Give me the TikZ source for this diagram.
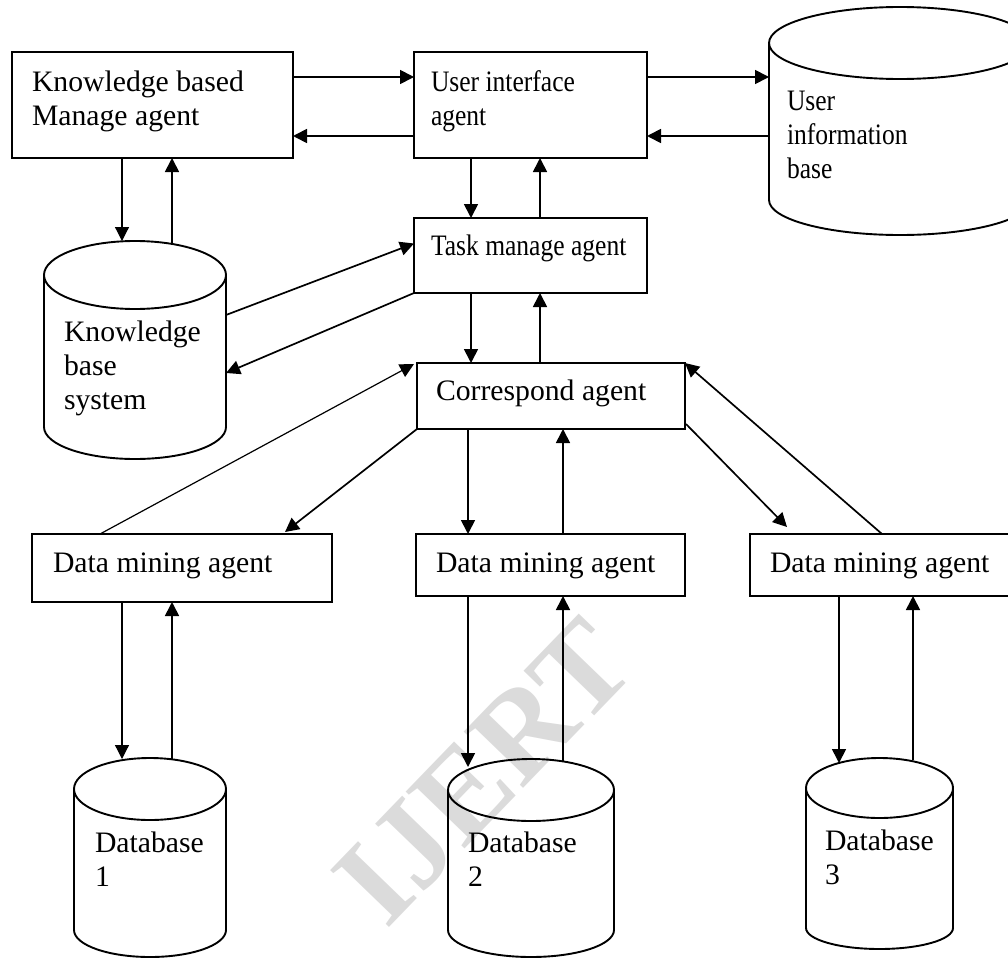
\documentclass[tikz,border=0pt]{standalone}
\usepackage{fontspec}
\usepackage{graphicx}
\setmainfont{Liberation Serif}
\usetikzlibrary{arrows.meta,calc}
\newcommand\agentbox[5]{%
  \node[box, minimum width={#4-#2}, minimum height={#5-#3}] (#1) at (#2,#3) {};}
% name, cx, top, rx, ry, side bottom, bottom
\newcommand\drawcyl[7]{%
  \node[inner sep=0pt, outer sep=0pt, minimum width={2*#4}, minimum height={#7-#3}, anchor=north] (#1) at (#2,#3) {};
  \draw[cylline] (#2,#3+#5) ellipse [x radius=#4, y radius=#5];
  \draw[cylline] (#2-#4,#3+#5) -- (#2-#4,#6)
     arc[start angle=180, end angle=0, x radius=#4, y radius=#7-#6] -- (#2+#4,#3+#5);}
\begin{document}
\begin{tikzpicture}[x=1pt,y=-1pt,
  box/.style={draw, line width=1.9pt, inner sep=0pt, outer sep=0pt, anchor=north west},
  cylline/.style={line width=1.9pt},
  txt/.style={inner sep=0pt, outer sep=0pt, anchor=base west, font=\fontsize{29.7}{34}\selectfont},
  arr/.style={line width=1.7pt, -{Triangle[length=14pt,width=14pt]}},
  thinarr/.style={arr, line width=1.2pt},
  wmark/.style={text=gray!28, font=\bfseries\fontsize{125}{125}\selectfont, rotate=46, inner sep=0pt}]
\useasboundingbox (0,0) rectangle (1008,958);
\clip (0,0) rectangle (1008,958);

% watermark
\node[wmark] (wm) at (484,772) {IJERT};

% boxes
\agentbox{kbm}{12}{52}{293}{158}
\agentbox{ui}{414}{52}{647}{158}
\agentbox{task}{414}{218}{647}{293}
\agentbox{corr}{417}{363}{685}{429}
\agentbox{dm1}{32}{534}{332}{602}
\agentbox{dm2}{416}{534}{685}{596}
\agentbox{dm3}{750}{534}{1015}{596}

% cylinders
\drawcyl{uib}{900}{7}{131}{36}{200}{235}
\drawcyl{kbs}{135}{241}{91}{34}{427}{459}
\drawcyl{db1}{150}{758}{76}{31}{930}{957}
\drawcyl{db2}{531}{759}{83}{31}{930}{957}
\drawcyl{db3}{879.5}{758}{73.5}{30}{928}{949}

% texts
\node[txt] (kbm-t) at (32,91) {\begin{tabular}[t]{@{}l@{}}Knowledge based\\Manage agent\end{tabular}};
\node[txt] (ui-t) at (431,91) {\scalebox{0.86}[1]{\begin{tabular}[t]{@{}l@{}}User interface\\agent\end{tabular}}};
\node[txt] (task-t) at (431,255) {\scalebox{0.86}[1]{Task manage agent}};
\node[txt] (uib-t) at (787,110) {\scalebox{0.86}[1]{\begin{tabular}[t]{@{}l@{}}User\\information\\base\end{tabular}}};
\node[txt] (kbs-t) at (64,341) {\begin{tabular}[t]{@{}l@{}}Knowledge\\base\\system\end{tabular}};
\node[txt] (corr-t) at (436,400) {Correspond agent};
\node[txt] (dm1-t) at (53,572) {Data mining agent};
\node[txt] (dm2-t) at (436,572) {Data mining agent};
\node[txt] (dm3-t) at (770,572) {Data mining agent};
\node[txt] (db1-t) at (95,852) {\begin{tabular}[t]{@{}l@{}}Database\\1\end{tabular}};
\node[txt] (db2-t) at (468,852) {\begin{tabular}[t]{@{}l@{}}Database\\2\end{tabular}};
\node[txt] (db3-t) at (825,850) {\begin{tabular}[t]{@{}l@{}}Database\\3\end{tabular}};

% connectors
\draw[arr] (kbm.east |- 0,77) -- (ui.west |- 0,77);
\draw[arr] (ui.west |- 0,136) -- (kbm.east |- 0,136);
\draw[arr] (ui.east |- 0,77) -- (uib.west |- 0,77);
\draw[arr] (uib.west |- 0,136) -- (ui.east |- 0,136);
\draw[arr] (471,0 |- ui.south) -- (471,0 |- task.north);
\draw[arr] (540,0 |- task.north) -- (540,0 |- ui.south);
\draw[thinarr] (122,0 |- kbm.south) -- (122,0 |- kbs.north);
\draw[arr] ($(172,0 |- kbs.north)+(0,2)$) -- (172,0 |- kbm.south);
\draw[arr] ($(kbs.east)+(0,-35)$) -- ($(task.west)+(0,-12)$);
\draw[arr] (task.south west) -- ($(kbs.east)+(0,23)$);
\draw[arr] (471,0 |- task.south) -- (471,0 |- corr.north);
\draw[arr] (540,0 |- corr.north) -- (540,0 |- task.south);
\draw[thinarr] ($(dm1.north west)+(68,0)$) -- ($(corr.north west)+(-3,1)$);
\draw[arr] (corr.south west) -- ($(dm1.north east)+(-47,-2)$);
\draw[arr] (468,0 |- corr.south) -- (468,0 |- dm2.north);
\draw[arr] (563,0 |- dm2.north) -- (563,0 |- corr.south);
\draw[arr] ($(corr.south east)+(1,-5)$) -- ($(dm3.north west)+(37,-7)$);
\draw[arr] ($(dm3.north west)+(132,0)$) -- (corr.north east);
\draw[thinarr] (122,0 |- dm1.south) -- ($(122,0 |- db1.north)+(0,1)$);
\draw[arr] ($(172,0 |- db1.north)+(0,1)$) -- (172,0 |- dm1.south);
\draw[arr] (468,0 |- dm2.south) -- ($(468,0 |- db2.north)+(0,8)$);
\draw[arr] ($(563,0 |- db2.north)+(0,2)$) -- (563,0 |- dm2.south);
\draw[arr] (839,0 |- dm3.south) -- ($(839,0 |- db3.north)+(0,5)$);
\draw[arr] ($(913,0 |- db3.north)+(0,2)$) -- (913,0 |- dm3.south);
\end{tikzpicture}
\end{document}
